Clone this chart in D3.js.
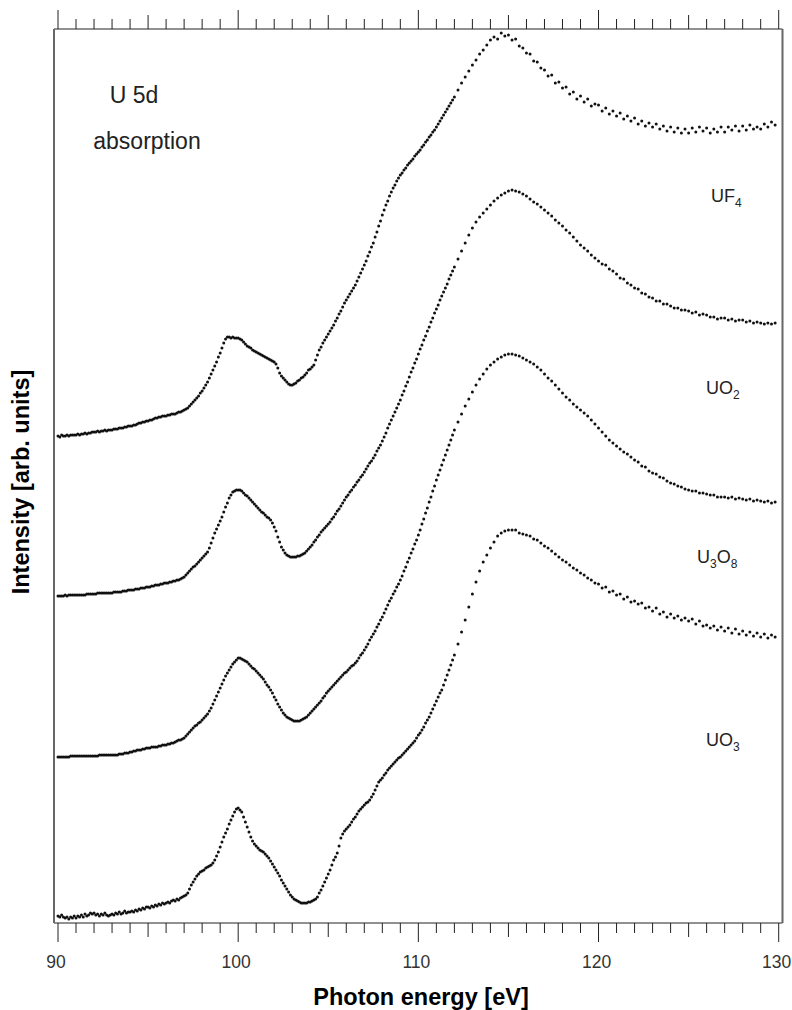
<!DOCTYPE html>
<html>
<head>
<meta charset="utf-8">
<script src="https://cdn.jsdelivr.net/npm/d3@7"></script>
<style>
  body { margin: 0; background: #fff; }
  text { font-family: "Liberation Sans", Arial, sans-serif; }
</style>
</head>
<body>
<div id="chart"></div>
<script>
// scan grid: 0.1 eV steps from 90.0 to 111.9, then 0.2 eV steps from 112.0 to 129.8
const scanParts = [
    { from: 90, step: 0.1, n: 220 },
    { from: 112, step: 0.2, n: 90 }
];

// intensity, arb. units (spectra stacked with offsets)
// rows of 10 = 1 eV at 0.1 eV steps; rows of 5 = 1 eV at 0.2 eV steps
const uf4 = [
  487,486,488,487,487,488,487,488,488,488,
  488,489,488,489,489,490,489,490,490,491,
  491,491,492,491,492,492,493,492,493,493,
  493,494,494,494,495,495,495,496,496,497,
  497,497,498,498,499,500,500,501,501,502,
  502,503,503,504,505,505,506,506,507,507,
  507,508,508,509,509,509,510,511,511,512,
  513,514,515,517,519,521,523,525,527,530,
  532,535,538,541,545,549,553,557,561,566,
  570,575,580,584,586,586,585,586,585,585,
  585,584,583,581,579,577,576,575,573,572,
  571,570,569,568,567,566,565,564,563,562,
  561,559,555,550,547,545,543,541,539,538,
  538,539,540,542,543,545,546,548,550,553,
  554,556,558,563,568,573,576,580,583,586,
  589,592,595,598,602,605,609,612,616,620,
  623,626,629,632,635,638,642,646,650,654,
  658,662,667,671,676,680,686,691,697,702,
  708,713,718,722,727,731,735,738,742,745,
  748,750,753,755,758,760,762,764,767,769,
  771,773,776,778,781,783,786,788,791,793,
  796,799,802,805,808,811,814,817,820,823,
  826,833,840,846,852,
  858,863,869,873,878,
  883,886,884,890,887,
  888,883,884,877,875,
  870,869,862,861,855,
  853,847,848,840,841,
  835,836,829,831,824,
  827,821,824,817,819,
  818,812,815,809,812,
  807,810,804,807,802,
  805,799,802,797,800,
  796,799,794,797,792,
  796,791,795,790,794,
  790,795,791,796,792,
  795,790,794,791,796,
  791,796,793,797,792,
  797,793,798,794,796,
  794,799,796,801,798];

const uo2 = [
  327,327,327,327,328,327,328,328,328,328,
  328,328,328,328,328,328,329,329,329,329,
  329,329,330,330,330,330,330,330,330,330,
  330,331,331,331,331,331,332,332,332,333,
  333,333,333,334,334,334,335,335,335,336,
  336,336,337,337,338,338,338,339,339,340,
  340,340,341,341,342,342,343,343,344,345,
  346,348,350,352,354,356,357,359,361,363,
  365,367,369,371,375,380,385,390,394,398,
  402,406,411,416,420,425,428,431,432,433,
  433,433,432,430,428,427,425,423,421,419,
  417,415,413,411,410,408,406,405,403,400,
  396,392,386,381,376,373,370,368,367,366,
  366,366,366,367,367,368,369,370,372,374,
  376,378,381,383,386,388,391,393,395,397,
  399,401,404,406,409,412,414,417,420,423,
  426,428,431,433,436,438,441,443,446,448,
  451,454,457,460,462,465,468,472,475,478,
  482,486,490,495,499,503,507,511,515,519,
  523,528,532,537,541,546,551,555,560,564,
  569,574,578,583,587,592,596,601,605,610,
  614,618,623,627,631,635,639,644,648,652,
  656,664,672,680,688,
  695,701,706,710,714,
  718,722,725,728,730,
  732,733,732,731,729,
  727,724,721,719,716,
  713,710,707,703,700,
  697,693,690,686,682,
  678,675,672,668,665,
  662,659,658,654,652,
  649,645,644,640,638,
  635,634,630,629,626,
  625,622,622,619,619,
  617,615,615,613,613,
  612,610,611,608,609,
  608,606,606,604,605,
  605,603,604,602,603,
  603,601,602,600,601,
  600,599,600,599,600];

const u3o8 = [
  166,166,166,166,166,166,166,167,167,167,
  167,167,167,167,167,167,167,167,167,167,
  167,167,167,168,168,168,168,168,168,168,
  168,168,168,168,169,169,169,170,170,170,
  171,171,172,172,173,173,173,174,174,175,
  175,175,176,176,176,176,177,177,178,178,
  178,179,179,180,180,181,182,183,183,184,
  185,187,189,191,193,195,197,198,200,201,
  203,205,207,209,212,215,219,223,227,231,
  235,239,243,247,250,253,256,259,261,263,
  265,265,264,263,262,261,259,257,255,254,
  252,250,248,246,244,241,238,236,233,230,
  226,223,219,216,213,210,208,206,205,204,
  203,202,202,202,202,203,204,205,206,208,
  210,212,214,216,218,220,222,225,227,230,
  232,234,236,238,240,242,244,246,248,250,
  251,253,255,257,258,260,262,265,268,270,
  273,276,279,283,286,289,292,296,299,303,
  306,310,314,318,322,325,329,332,336,339,
  343,347,352,356,361,365,370,374,379,383,
  388,393,399,404,410,415,421,426,432,437,
  443,448,453,458,463,468,473,478,483,488,
  493,501,509,517,524,
  531,538,544,549,554,
  558,561,564,566,568,
  569,569,568,567,565,
  563,561,559,556,553,
  549,545,542,538,534,
  530,526,523,519,516,
  513,510,507,503,499,
  495,491,487,483,480,
  477,474,471,469,466,
  463,461,457,456,452,
  450,449,446,445,442,
  440,439,437,436,434,
  433,432,432,430,430,
  429,428,428,426,426,
  426,425,426,424,425,
  424,423,424,422,423,
  422,421,422,420,421];

const uo3 = [
  7,6,8,6,5,6,4,6,5,7,
  5,7,6,8,6,9,7,8,10,9,
  10,8,9,7,9,8,10,8,7,8,
  9,8,10,9,11,9,10,12,10,11,
  11,12,11,13,12,14,13,15,14,16,
  16,15,17,16,18,17,19,18,20,19,
  20,21,20,22,23,22,24,23,25,26,
  27,28,30,34,38,41,44,47,49,51,
  52,53,55,56,57,58,60,63,67,71,
  76,81,86,90,94,99,103,107,111,114,
  115,113,111,106,101,96,91,86,82,79,
  77,75,73,72,71,69,67,65,62,59,
  56,53,50,47,43,40,37,34,31,28,
  26,24,23,22,21,20,20,20,20,21,
  21,22,23,24,26,30,33,37,41,45,
  49,53,58,63,66,70,77,85,89,92,
  94,96,98,101,104,106,109,112,114,116,
  118,120,121,123,126,129,133,137,141,143,
  145,148,150,153,155,157,159,161,163,165,
  166,168,170,172,174,176,178,180,182,185,
  188,190,193,196,200,203,206,210,214,218,
  222,226,230,233,238,243,248,253,258,263,
  268,279,291,303,316,
  329,341,352,361,368,
  375,381,387,390,392,
  393,393,393,390,389,
  388,387,384,383,380,
  377,375,372,369,366,
  363,361,358,355,353,
  350,348,345,343,340,
  339,335,336,331,332,
  328,329,324,326,321,
  322,319,320,315,316,
  312,315,309,311,306,
  309,305,307,303,305,
  302,304,299,302,297,
  298,295,297,293,296,
  292,295,290,294,289,
  292,288,291,287,290,
  286,289,285,288,286];

const seriesList = [uf4, uo2, u3o8, uo3];

const xTicks = [90, 100, 110, 120, 130];

// photon energies of the scan points
const energy = [];
scanParts.forEach(p => {
    for (let k = 0; k < p.n; k++) energy.push(p.from + k * p.step);
});

const width = 792, height = 1010;
const svg = d3.select("#chart").append("svg")
    .attr("width", width)
    .attr("height", height);

const x = d3.scaleLinear().domain([90, 130]).range([58, 778.7]);
const y = d3.scaleLinear().domain([0, 894]).range([923, 29]);

// frame
svg.append("line").attr("x1", 54).attr("x2", 782.5).attr("y1", 29).attr("y2", 29)
    .attr("stroke", "#222").attr("stroke-width", 1);
svg.append("line").attr("x1", 54).attr("x2", 782.5).attr("y1", 923).attr("y2", 923)
    .attr("stroke", "#222").attr("stroke-width", 1);
svg.append("line").attr("x1", 54).attr("x2", 54).attr("y1", 29).attr("y2", 923)
    .attr("stroke", "#666").attr("stroke-width", 2);
svg.append("line").attr("x1", 782.5).attr("x2", 782.5).attr("y1", 29).attr("y2", 923)
    .attr("stroke", "#666").attr("stroke-width", 2);

// ticks, 1 eV minor, 5 eV medium, 10 eV major
const allTicks = d3.range(90, 131, 1);
function tickLen(v) { return v % 10 === 0 ? 19 : (v % 5 === 0 ? 14 : 10); }

svg.append("g").selectAll("line").data(allTicks).enter().append("line")
    .attr("x1", d => x(d)).attr("x2", d => x(d))
    .attr("y1", 923).attr("y2", d => 923 + tickLen(d))
    .attr("stroke", "#222").attr("stroke-width", 1);
svg.append("g").selectAll("line").data(allTicks).enter().append("line")
    .attr("x1", d => x(d)).attr("x2", d => x(d))
    .attr("y1", 29).attr("y2", d => 29 - tickLen(d))
    .attr("stroke", "#222").attr("stroke-width", 1);

svg.append("g").selectAll("text").data(xTicks).enter().append("text")
    .attr("x", d => x(d) - 2).attr("y", 968)
    .attr("text-anchor", "middle")
    .attr("font-size", 17.5).attr("fill", "#333")
    .text(d => d);

svg.append("text").attr("x", 421).attr("y", 1005)
    .attr("text-anchor", "middle").attr("font-size", 23.5).attr("font-weight", "bold")
    .text("Photon energy [eV]");

svg.append("text").attr("transform", "translate(29,482) rotate(-90)")
    .attr("text-anchor", "middle").attr("font-size", 23.5).attr("font-weight", "bold")
    .text("Intensity [arb. units]");

svg.append("text").attr("x", 134).attr("y", 103).attr("text-anchor", "middle")
    .attr("font-size", 23).attr("fill", "#222").text("U 5d");
svg.append("text").attr("x", 147).attr("y", 149).attr("text-anchor", "middle")
    .attr("font-size", 23).attr("fill", "#222").text("absorption");

// dots
seriesList.forEach(s => {
    svg.append("g").selectAll("circle").data(s).enter().append("circle")
        .attr("cx", (d, i) => x(energy[i]))
        .attr("cy", d => y(d))
        .attr("r", 1.5)
        .attr("fill", "#111");
});

// compound labels with subscripts
const labels = [
    { parts: [["UF", 0], ["4", 1]], x: 711, y: 202 },
    { parts: [["UO", 0], ["2", 1]], x: 706, y: 394 },
    { parts: [["U", 0], ["3", 1], ["O", 0], ["8", 1]], x: 697, y: 563 },
    { parts: [["UO", 0], ["3", 1]], x: 706, y: 746 }
];
labels.forEach(l => {
    const t = svg.append("text").attr("x", l.x).attr("y", l.y)
        .attr("font-size", 18).attr("fill", "#222");
    let sub = false;
    l.parts.forEach(p => {
        const ts = t.append("tspan").text(p[0]);
        if (p[1] && !sub) { ts.attr("dy", 5).attr("font-size", 12); sub = true; }
        else if (!p[1] && sub) { ts.attr("dy", -5); sub = false; }
        else if (p[1]) ts.attr("font-size", 12);
    });
});
</script>
</body>
</html>
